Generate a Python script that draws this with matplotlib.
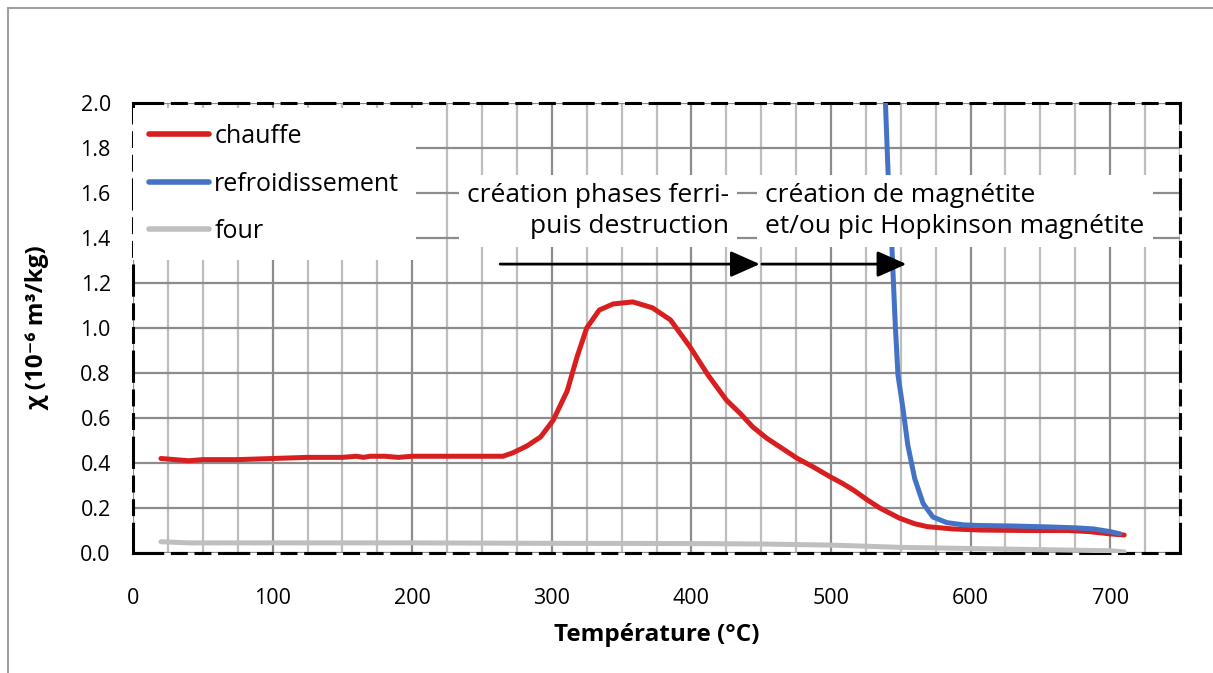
import matplotlib
matplotlib.use("Agg")
import matplotlib.pyplot as plt
from matplotlib.lines import Line2D
from matplotlib.ticker import MultipleLocator, FixedLocator

plt.rcParams['font.family'] = ['Open Sans', 'DejaVu Sans']
plt.rcParams['lines.scale_dashes'] = False

# ---- data ----
temp_chauffe = [20, 30, 40, 50, 75, 100, 125, 150, 160, 165, 170, 180, 190, 200, 225, 250, 265,
                272, 282, 292, 301, 311, 318, 325, 334, 344, 358, 372, 385, 399, 412, 425, 435,
                444, 454, 465, 476, 488, 499, 508, 516, 526, 535, 549, 560, 569, 587, 607, 640,
                670, 685, 700, 710]
chi_chauffe = [0.42, 0.415, 0.41, 0.415, 0.415, 0.42, 0.425, 0.425, 0.43, 0.425, 0.43, 0.43, 0.425,
               0.43, 0.43, 0.43, 0.43, 0.445, 0.475, 0.516, 0.59, 0.72, 0.87, 1.00, 1.08, 1.107,
               1.116, 1.09, 1.036, 0.916, 0.79, 0.68, 0.62, 0.56, 0.51, 0.465, 0.42, 0.38, 0.34,
               0.31, 0.28, 0.236, 0.20, 0.155, 0.13, 0.117, 0.107, 0.102, 0.10, 0.10, 0.095,
               0.085, 0.08]

temp_refroid = [537, 539, 541, 543.7, 546, 548, 551.6, 555, 560, 566, 573, 583, 595, 607, 630,
                655, 675, 688, 700, 707]
chi_refroid = [2.2, 2.0, 1.67, 1.35, 1.02, 0.79, 0.64, 0.48, 0.33, 0.22, 0.16, 0.135, 0.125,
               0.122, 0.12, 0.116, 0.112, 0.107, 0.095, 0.085]

temp_four = [20, 40, 60, 100, 200, 300, 400, 450, 500, 526, 550, 600, 650, 700, 710]
chi_four = [0.05, 0.045, 0.045, 0.045, 0.045, 0.043, 0.042, 0.04, 0.035, 0.03, 0.025, 0.02,
            0.015, 0.01, 0.005]

x_ticks = [0, 100, 200, 300, 400, 500, 600, 700]
y_ticks = [0.0, 0.2, 0.4, 0.6, 0.8, 1.0, 1.2, 1.4, 1.6, 1.8, 2.0]

labels = ['chauffe', 'refroidissement', 'four']
colors = ['#D81E1E', '#4472C4', '#BFBFBF']

annot1 = "création phases ferri-\npuis destruction"
annot2 = "création de magnétite\net/ou pic Hopkinson magnétite"

# ---- figure ----
fig = plt.figure(figsize=(12.13, 6.73), dpi=100)
fig.patch.set_facecolor('white')
ax = fig.add_axes([133/1213, 1-553/673, (1180-133)/1213, (553-103)/673])

# figure border (top & left)
fig.add_artist(Line2D([8/1213, 8/1213], [0, 1-8/673], transform=fig.transFigure,
                      color='#A0A0A0', lw=1.5))
fig.add_artist(Line2D([8/1213, 1], [1-8/673, 1-8/673], transform=fig.transFigure,
                      color='#A0A0A0', lw=1.5))

ax.set_xlim(0, 750)
ax.set_ylim(0, 2.0)

# grid
ax.xaxis.set_major_locator(FixedLocator(x_ticks))
ax.xaxis.set_minor_locator(MultipleLocator(25))
ax.yaxis.set_major_locator(FixedLocator(y_ticks))
ax.grid(which='minor', axis='x', color='#BDBDBD', lw=1.6, zorder=0)
ax.grid(which='major', axis='x', color='#8C8C8C', lw=1.6, zorder=0)
ax.grid(which='major', axis='y', color='#8C8C8C', lw=1.6, zorder=0)
ax.set_axisbelow(True)
ax.tick_params(which='both', length=0)
ax.tick_params(axis='x', pad=25, labelsize=15.5)
ax.tick_params(axis='y', pad=16, labelsize=15.5)
ax.set_yticklabels([f"{v:.1f}" for v in y_ticks])
ax.set_xticklabels([str(v) for v in x_ticks])

for sp in ax.spines.values():
    sp.set_color('black')
    sp.set_linewidth(2.2)
    sp.set_linestyle((0, (21, 7, 10, 7, 10, 7)))

# series
ax.plot(temp_four, chi_four, color=colors[2], lw=3.6, solid_capstyle='round', zorder=3,
        label=labels[2])
ax.plot(temp_chauffe, chi_chauffe, color=colors[0], lw=3.6, solid_capstyle='round', zorder=4,
        label=labels[0])
ax.plot(temp_refroid, chi_refroid, color=colors[1], lw=3.6, solid_capstyle='round', zorder=5,
        label=labels[1])

# legend
handles = [Line2D([], [], color=c, lw=4, solid_capstyle='round') for c in colors]
leg = ax.legend(handles, labels, loc='upper left', bbox_to_anchor=(0.0, 0.989),
                fontsize=18, frameon=True, fancybox=False, framealpha=1,
                edgecolor='none', facecolor='white', handlelength=2.4, handletextpad=0.2,
                labelspacing=0.9, borderpad=0.65, borderaxespad=0.0)
leg.set_zorder(10)

# annotations
bbox = dict(boxstyle='square,pad=0.3', fc='white', ec='none')
ax.text(427, 1.52, annot1, ha='right', va='center', fontsize=19, linespacing=1.33,
        bbox=bbox, zorder=10)
ax.text(453, 1.52, annot2, ha='left', va='center', fontsize=19, linespacing=1.33,
        bbox=bbox, zorder=10)

ap = dict(arrowstyle='-|>,head_length=0.9,head_width=0.4', color='black', lw=2,
          shrinkA=0, shrinkB=0, mutation_scale=20)
ax.annotate('', xy=(449, 1.284), xytext=(263, 1.284), arrowprops=ap, zorder=11)
ax.annotate('', xy=(554, 1.284), xytext=(450.5, 1.284), arrowprops=ap, zorder=11)

ax.set_xlabel('Température (°C)', fontsize=17.5, fontweight='bold', labelpad=10)
ax.set_ylabel('χ (10⁻⁶ m³/kg)', fontsize=17.5, fontweight='bold', labelpad=22)

fig.savefig('out.png', dpi=100, facecolor='white')
